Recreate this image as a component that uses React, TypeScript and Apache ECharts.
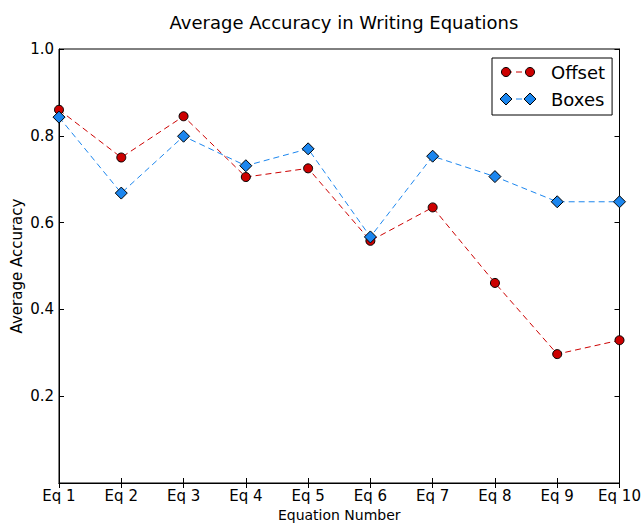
import React, { useEffect, useRef } from "react";
import * as echarts from "echarts";

const categories = ["Eq 1", "Eq 2", "Eq 3", "Eq 4", "Eq 5", "Eq 6", "Eq 7", "Eq 8", "Eq 9", "Eq 10"];
const offsetValues = [0.86, 0.75, 0.845, 0.705, 0.725, 0.558, 0.635, 0.461, 0.297, 0.329];
const boxesValues = [0.843, 0.668, 0.799, 0.731, 0.77, 0.567, 0.753, 0.706, 0.648, 0.648];
const seriesNames = ["Offset", "Boxes"];

const FONT = "DejaVu Sans";
const RED = "#cc0000";
const BLUE = "#1c86ee";

export default function App() {
  const ref = useRef<HTMLDivElement>(null);
  useEffect(() => {
    if (!ref.current) return;
    const chart = echarts.init(ref.current, null, { renderer: "svg" });
    const tickStyle = { show: true, inside: true, length: 5, lineStyle: { color: "#000", width: 1 } };
    const dash = [6, 4];
    const legendIcons = [
      { type: "line", shape: { x1: 506, y1: 72, x2: 530, y2: 72 }, style: { stroke: RED, lineWidth: 1, lineDash: dash }, z: 100 },
      { type: "circle", shape: { cx: 506, cy: 72, r: 4.5 }, style: { fill: RED, stroke: "#000", lineWidth: 1 }, z: 101 },
      { type: "circle", shape: { cx: 530, cy: 72, r: 4.5 }, style: { fill: RED, stroke: "#000", lineWidth: 1 }, z: 101 },
      { type: "line", shape: { x1: 506, y1: 99, x2: 530, y2: 99 }, style: { stroke: BLUE, lineWidth: 1, lineDash: dash }, z: 100 },
      { type: "polygon", shape: { points: [[506, 93], [512, 99], [506, 105], [500, 99]] }, style: { fill: BLUE, stroke: "#000", lineWidth: 1 }, z: 101 },
      { type: "polygon", shape: { points: [[530, 93], [536, 99], [530, 105], [524, 99]] }, style: { fill: BLUE, stroke: "#000", lineWidth: 1 }, z: 101 },
    ];
    chart.setOption({
      animation: false,
      backgroundColor: "#fff",
      textStyle: { fontFamily: FONT },
      title: {
        text: "Average Accuracy in Writing Equations",
        left: 339,
        textAlign: "center",
        top: 8,
        textStyle: { fontFamily: FONT, fontSize: 18, fontWeight: "normal", color: "#000" },
      },
      grid: {
        left: 59,
        right: 23.5,
        top: 49,
        bottom: 40,
        outerBoundsMode: "none",
        containLabel: false,
        show: true,
        borderColor: "#000",
        borderWidth: 1,
        backgroundColor: "transparent",
      },
      legend: {
        orient: "vertical",
        left: 492,
        top: 58,
        backgroundColor: "#fff",
        borderColor: "#000",
        borderWidth: 1,
        padding: [4, 7, 6, 6],
        itemGap: 7,
        itemWidth: 48,
        itemHeight: 20,
        icon: "none",
        selectedMode: false,
        textStyle: { fontFamily: FONT, fontSize: 18, color: "#000", lineHeight: 20 },
        data: seriesNames,
      },
      graphic: legendIcons,
      xAxis: [
        {
          type: "category",
          data: categories,
          boundaryGap: false,
          name: "Equation Number",
          nameLocation: "middle",
          nameGap: 25,
          nameMoveOverlap: false,
          nameTextStyle: { fontFamily: FONT, fontSize: 14, color: "#000", lineHeight: 14 },
          axisLine: { show: true, lineStyle: { color: "#000", width: 1 } },
          axisTick: tickStyle,
          axisLabel: { fontFamily: FONT, fontSize: 15, color: "#000", margin: 5 },
          splitLine: { show: false },
        },
        {
          type: "category",
          data: categories,
          boundaryGap: false,
          position: "top",
          axisLine: { show: true, lineStyle: { color: "#000", width: 1 } },
          axisTick: tickStyle,
          axisLabel: { show: false },
          splitLine: { show: false },
        },
      ],
      yAxis: [
        {
          type: "value",
          min: 0,
          max: 1,
          interval: 0.2,
          name: "Average Accuracy",
          nameLocation: "middle",
          nameGap: 35,
          nameMoveOverlap: false,
          nameTextStyle: { fontFamily: FONT, fontSize: 15, color: "#000" },
          axisLine: { show: true, lineStyle: { color: "#000", width: 1 } },
          axisTick: tickStyle,
          axisLabel: {
            fontFamily: FONT,
            fontSize: 15,
            color: "#000",
            margin: 5,
            formatter: (v: number) => (v === 0 ? "" : v.toFixed(1)),
          },
          splitLine: { show: false },
        },
        {
          type: "value",
          min: 0,
          max: 1,
          interval: 0.2,
          position: "right",
          axisLine: { show: true, lineStyle: { color: "#000", width: 1 } },
          axisTick: tickStyle,
          axisLabel: { show: false },
          splitLine: { show: false },
        },
      ],
      series: [
        {
          name: seriesNames[0],
          type: "line",
          data: offsetValues,
          symbol: "circle",
          symbolSize: 9,
          z: 3,
          lineStyle: { color: RED, width: 1, type: dash },
          itemStyle: { color: RED, borderColor: "#000", borderWidth: 1 },
        },
        {
          name: seriesNames[1],
          type: "line",
          data: boxesValues,
          symbol: "diamond",
          symbolSize: 12,
          z: 4,
          lineStyle: { color: BLUE, width: 1, type: dash },
          itemStyle: { color: BLUE, borderColor: "#000", borderWidth: 1 },
        },
      ],
    });
    return () => chart.dispose();
  }, []);
  return (
    <div
      ref={ref}
      style={{ position: "absolute", left: 0, top: 0, width: 643, height: 523 }}
    />
  );
}
